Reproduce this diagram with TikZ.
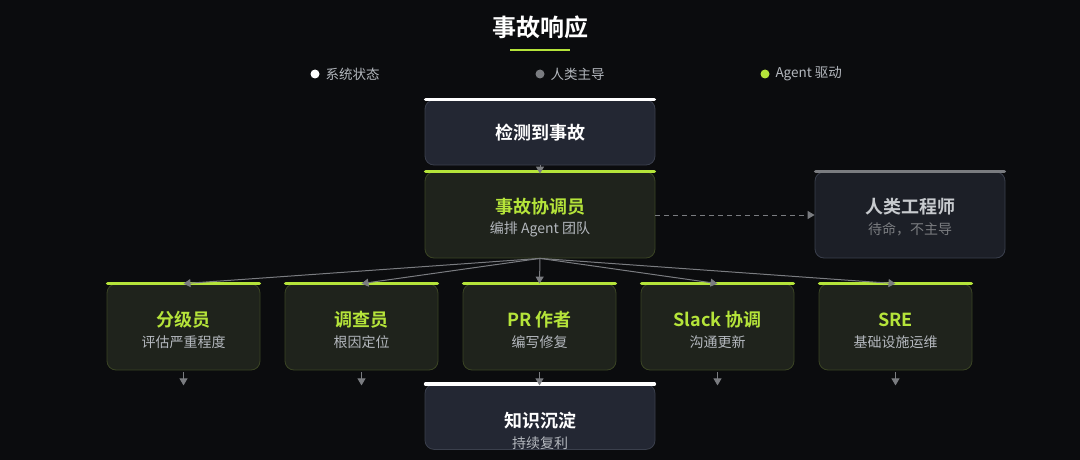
\documentclass[tikz,border=0pt]{standalone}
\usepackage{fontspec}
\setmainfont{Noto Sans CJK SC}
\newfontfamily\cjkbold{Noto Sans CJK SC Bold}
\usetikzlibrary{positioning,arrows.meta}
\definecolor{bgc}{HTML}{0B0C0E}
\definecolor{limec}{HTML}{B5E43A}
\definecolor{greenbox}{HTML}{1F231C}
\definecolor{greenedge}{HTML}{3A4424}
\definecolor{sysbox}{HTML}{232733}
\definecolor{sysedge}{HTML}{3A3F4C}
\definecolor{humbox}{HTML}{1C1F27}
\definecolor{subc}{HTML}{B4B8BE}
\definecolor{linkc}{HTML}{7A7C80}
\tikzset{
  box/.style={rounded corners=9pt,minimum width=230pt,minimum height=65pt,line width=0.8pt},
  sysbox/.style={box,fill=sysbox,draw=sysedge},
  agentbox/.style={box,fill=greenbox,draw=greenedge,minimum height=86pt},
  smallbox/.style={agentbox,minimum width=153pt},
  humbox/.style={box,fill=humbox,draw=sysedge,minimum width=190pt,minimum height=86pt},
  bar/.style={line width=3.5pt,line cap=round},
  title/.style={font=\cjkbold\fontsize{18}{20}\selectfont},
  sub/.style={font=\fontsize{14}{16}\selectfont,text=subc},
  link/.style={draw=linkc,line width=1pt,-{Triangle[width=8pt,length=7pt]}},
  legend/.style={font=\fontsize{13.5}{15}\selectfont,text=subc,anchor=west}
}
\begin{document}
\begin{tikzpicture}[x=1pt,y=-1pt]
  \fill[bgc] (0,0) rectangle (1080,460);
  \useasboundingbox (0,0) rectangle (1080,460);
  % title and legend
  \node[font=\cjkbold\fontsize{24}{26}\selectfont,text=white] (head) at (540,27) {事故响应};
  \draw[limec,line width=2.5pt] (510,50) -- (570,50);
  \fill[white] (315,74) circle (4.5pt);
  \node[legend] (lsys) at (322,74) {系统状态};
  \fill[linkc] (540,74) circle (4.5pt);
  \node[legend] (lhum) at (547,74) {人类主导};
  \fill[limec] (765,74) circle (4.5pt);
  \node[legend] (lagt) at (772,74) {Agent 驱动};
  % boxes
  \node[sysbox] (detect) at (540,132.5) {};
  \node[agentbox] (coord) at (540,215) {};
  \node[humbox] (human) at (910,215) {};
  \node[smallbox] (triage) at (183.5,327) {};
  \node[smallbox] (invest) at (361.5,327) {};
  \node[smallbox] (prauth) at (539.5,327) {};
  \node[smallbox] (slack) at (717.5,327) {};
  \node[smallbox] (sre) at (895.5,327) {};
  \node[sysbox,anchor=north] (know) at (540,384) {};
  % top bars
  \draw[bar,white] (detect.north west) ++(1,0) -- ([xshift=-1pt]detect.north east);
  \draw[bar,limec] (coord.north west) ++(1,0) -- ([xshift=-1pt]coord.north east);
  \draw[bar,linkc] (human.north west) ++(1,0) -- ([xshift=-1pt]human.north east);
  \foreach \b in {triage,invest,prauth,slack,sre}
    \draw[bar,limec] (\b.north west) ++(1,0) -- ([xshift=-1pt]\b.north east);
  \draw[bar,white] (know.north west) ++(1,0) -- ([xshift=-1pt]know.north east);
  % labels
  \node[title,text=white] (tdetect) at (540,132.5) {检测到事故};
  \node[title,text=limec] (tcoord) at (540,207) {事故协调员};
  \node[sub] (scoord) at (540,229) {编排 Agent 团队};
  \node[title,text=subc!75] (thuman) at (910,207) {人类工程师};
  \node[sub,text=linkc] (shuman) at (910,229) {待命，不主导};
  \node[title,text=limec] at (183.5,320) {分级员};
  \node[sub] at (183.5,342) {评估严重程度};
  \node[title,text=limec] at (361.5,320) {调查员};
  \node[sub] at (361.5,342) {根因定位};
  \node[title,text=limec] at (539.5,320) {PR 作者};
  \node[sub] at (539.5,342) {编写修复};
  \node[title,text=limec] at (717.5,320) {Slack 协调};
  \node[sub] at (717.5,342) {沟通更新};
  \node[title,text=limec] at (895.5,320) {SRE};
  \node[sub] at (895.5,342) {基础设施运维};
  \node[title,text=white] (tknow) at (540,421) {知识沉淀};
  \node[sub] (sknow) at (540,443) {持续复利};
  % connectors
  \draw[link] (detect.south) -- ([yshift=-2pt]coord.north);
  \draw[link,dashed,dash pattern=on 5pt off 4pt] (coord.east) -- (human.west);
  \foreach \b in {triage,invest,prauth,slack,sre} {
    \draw[link] (coord.south) -- (\b.north);
    \draw[link] (\b.south) ++(0,2) -- ++(0,13);
  }
\end{tikzpicture}
\end{document}
